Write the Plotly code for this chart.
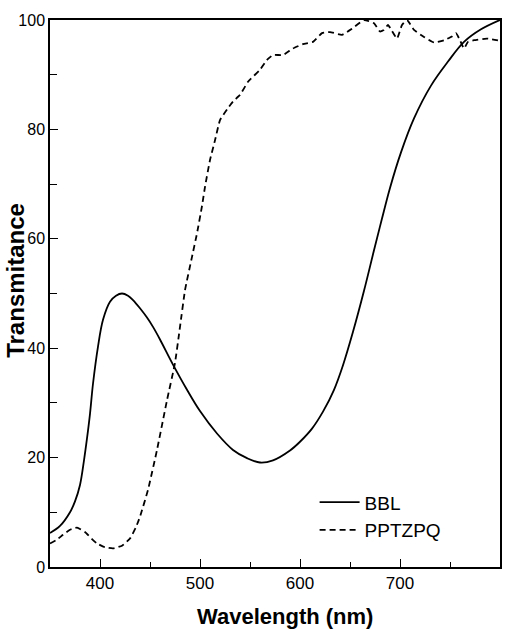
import plotly.graph_objects as go

# ---- data ----
bbl_wl = [350, 360, 370, 375, 380, 384, 387, 390, 393, 398, 403, 410, 416, 422, 428, 433,
          440, 447, 453, 460, 473, 487, 500, 517, 533, 547, 560, 573, 590, 600, 612, 623, 634,
          643, 653, 664, 674, 682, 690, 701, 714, 731, 748, 764, 781, 800]
bbl_t = [6.2, 7.5, 10.0, 12.0, 15.0, 19.5, 23.5, 28.0, 33.5, 40.3, 45.2, 48.5, 49.6, 50.0, 49.6, 48.8,
         47.3, 45.6, 43.9, 41.6, 37.0, 32.4, 28.5, 24.4, 21.4, 19.9, 19.1, 19.5, 21.3, 22.9, 25.3, 28.4, 32.4,
         36.9, 43.0, 50.5, 57.9, 63.7, 69.3, 75.8, 82.0, 88.0, 92.4, 96.0, 98.3, 100.0]

ppt_wl = [350, 357, 363, 370, 377, 385, 392, 397, 405, 413, 422, 430, 436, 440, 448, 457,
          467, 475, 480, 485, 492, 497, 502, 505, 510, 515, 520, 528, 533, 540, 548, 560,
          567, 573, 583, 593, 603, 613, 622, 630, 642, 652, 664, 674, 680, 684, 688, 692,
          697, 702, 707, 714, 724, 734, 744, 752, 756, 760, 764, 768, 774, 787, 800]
ppt_t = [4.3, 5.0, 5.9, 6.8, 7.2, 6.4, 5.1, 4.3, 3.6, 3.4, 3.9, 5.2, 7.3, 9.2, 14.1, 21.4,
         30.5, 37.3, 43.9, 50.6, 56.7, 61.0, 66.0, 69.5, 74.4, 78.0, 81.7, 83.9, 85.1, 86.3, 88.7, 90.9,
         92.7, 93.6, 93.6, 94.8, 95.6, 96.0, 97.6, 97.8, 97.3, 98.4, 100.0, 99.4, 97.9, 98.2, 99.1, 98.0,
         96.6, 99.1, 100.0, 98.2, 96.9, 95.9, 96.3, 97.0, 97.6, 96.3, 94.8, 96.0, 96.3, 96.6, 96.2]

x_ticks = [400, 500, 600, 700, 800]
y_ticks = [0, 20, 40, 60, 80, 100]

FONT = "Arial, Liberation Sans, sans-serif"

fig = go.Figure()
fig.add_trace(go.Scatter(x=bbl_wl, y=bbl_t, mode="lines", name="BBL",
                         line=dict(color="black", width=1.8, shape="spline", smoothing=1.0)))
fig.add_trace(go.Scatter(x=ppt_wl, y=ppt_t, mode="lines", name="PPTZPQ",
                         line=dict(color="black", width=1.8, dash="6px,4px", shape="spline", smoothing=0.4)))

fig.update_layout(
    width=514, height=629,
    margin=dict(l=50, r=14, t=20, b=62),
    paper_bgcolor="white", plot_bgcolor="white",
    font=dict(family=FONT, color="black"),
    showlegend=True,
    legend=dict(x=0.588, y=0.153, xanchor="left", yanchor="top",
                bgcolor="rgba(0,0,0,0)", font=dict(size=19, family=FONT, color="black"),
                tracegroupgap=0, itemwidth=40),
    xaxis=dict(range=[350, 800], tickvals=x_ticks, ticks="inside", ticklen=8, tickwidth=1.3,
               tickcolor="black", showline=True, linecolor="black", linewidth=1.5, mirror=True,
               showgrid=False, zeroline=False, tickfont=dict(size=17, family=FONT, color="black"),
               minor=dict(dtick=50, ticks="inside", ticklen=5, tickcolor="black", tickwidth=1.2, showgrid=False)),
    yaxis=dict(range=[0, 100], tickvals=y_ticks, ticks="inside", ticklen=8, tickwidth=1.3,
               tickcolor="black", showline=True, linecolor="black", linewidth=1.5, mirror=True,
               showgrid=False, zeroline=False, tickfont=dict(size=16, family=FONT, color="black"),
               minor=dict(dtick=10, ticks="inside", ticklen=7, tickcolor="black", tickwidth=1.2, showgrid=False)),
    annotations=[
        dict(text="<b>Wavelength (nm)</b>", xref="paper", yref="paper", x=0.522, y=-0.0896,
             xanchor="center", yanchor="middle", showarrow=False,
             font=dict(size=22, family=FONT, color="black")),
        dict(text="<b>Transmitance</b>", xref="paper", yref="paper", x=-0.0756, y=0.525,
             xanchor="center", yanchor="middle", showarrow=False, textangle=-90,
             font=dict(size=24, family=FONT, color="black")),
    ],
)

fig.write_html("out.html")
